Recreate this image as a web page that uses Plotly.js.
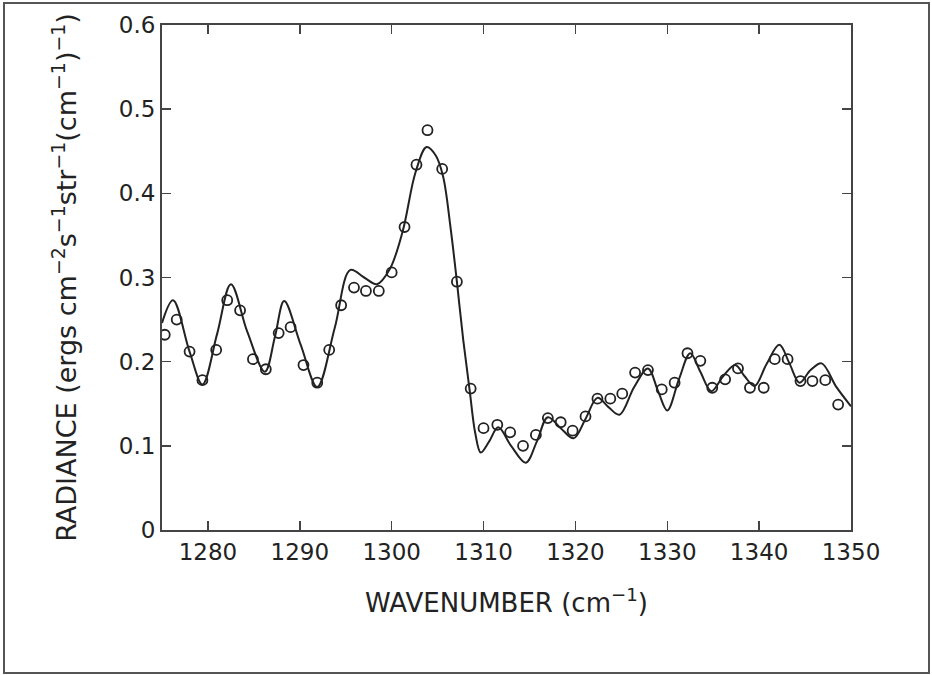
<!DOCTYPE html>
<html>
<head>
<meta charset="utf-8">
<script src="https://cdn.plot.ly/plotly-3.0.1.min.js"></script>
<style>
html,body{margin:0;padding:0;background:#fff;}
#chart{width:932px;height:675px;}
</style>
</head>
<body>
<div id="chart"></div>
<script>
// Observed data points (open circles)
const obsWavenumber = [1275.3,1276.6,1278.0,1279.4,1280.9,1282.1,1283.5,1284.9,1286.3,1287.7,1289.0,1290.4,1291.9,1293.2,1294.5,1295.9,1297.2,1298.6,1300.0,1301.4,1302.7,1303.9,1305.5,1307.1,1308.6,1310.0,1311.5,1312.9,1314.3,1315.7,1317.0,1318.4,1319.7,1321.1,1322.4,1323.8,1325.1,1326.5,1327.9,1329.4,1330.8,1332.2,1333.6,1334.9,1336.3,1337.7,1339.0,1340.5,1341.7,1343.1,1344.5,1345.8,1347.2,1348.6];
const obsRadiance = [0.232,0.250,0.212,0.178,0.214,0.273,0.261,0.203,0.191,0.234,0.241,0.196,0.175,0.214,0.267,0.288,0.284,0.284,0.306,0.360,0.434,0.475,0.429,0.295,0.168,0.121,0.125,0.116,0.100,0.113,0.133,0.128,0.118,0.135,0.156,0.156,0.162,0.187,0.190,0.167,0.175,0.210,0.201,0.169,0.179,0.192,0.169,0.169,0.203,0.203,0.177,0.177,0.178,0.149];

// Model curve (solid line)
const modelWavenumber = [1275.0,1276.2,1278.0,1279.4,1281.0,1282.5,1284.3,1286.2,1287.3,1288.3,1290.1,1291.9,1293.8,1295.5,1297.0,1298.4,1299.8,1301.2,1302.6,1303.8,1304.8,1305.6,1306.4,1307.1,1307.8,1308.5,1309.1,1309.7,1310.6,1311.6,1313.0,1314.6,1315.8,1317.0,1318.4,1319.8,1321.1,1322.4,1323.6,1324.8,1326.4,1327.9,1329.0,1330.0,1331.3,1332.5,1333.6,1334.8,1336.1,1337.4,1338.4,1339.5,1340.8,1342.2,1343.3,1344.4,1345.6,1346.8,1348.4,1350.0];
const modelRadiance = [0.246,0.273,0.212,0.173,0.233,0.292,0.235,0.188,0.230,0.272,0.220,0.170,0.240,0.309,0.300,0.292,0.310,0.355,0.425,0.455,0.445,0.420,0.360,0.295,0.225,0.165,0.115,0.092,0.105,0.122,0.100,0.080,0.105,0.134,0.121,0.109,0.132,0.157,0.146,0.137,0.170,0.192,0.165,0.142,0.180,0.210,0.188,0.165,0.183,0.196,0.183,0.171,0.197,0.220,0.198,0.175,0.190,0.198,0.170,0.147];

const xTicks = [1280,1290,1300,1310,1320,1330,1340,1350];
const yTicks = [0,0.1,0.2,0.3,0.4,0.5,0.6];
const yTickText = ['0','0.1','0.2','0.3','0.4','0.5','0.6'];

const W = 932, H = 675;
const m = {l:162, r:81, t:25, b:145};
const pw = W - m.l - m.r, ph = H - m.t - m.b;
// outer frame in paper coordinates
const fx0 = (4 - m.l)/pw, fx1 = (929 - m.l)/pw;
const fy1 = 1 + (m.t - 3)/ph, fy0 = -(m.b - 2)/ph;

const fontFam = 'DejaVu Sans, sans-serif';
const ink = '#222';

const traces = [
  {
    x: modelWavenumber, y: modelRadiance, type:'scatter', mode:'lines',
    line:{color:ink, width:2, shape:'spline', smoothing:1.0},
    hoverinfo:'skip', showlegend:false
  },
  {
    x: obsWavenumber, y: obsRadiance, type:'scatter', mode:'markers',
    marker:{symbol:'circle-open', size:10, color:ink, line:{color:ink, width:1.8}},
    showlegend:false
  }
];

const axisCommon = {
  showgrid:false, zeroline:false, showline:true, linecolor:'#444', linewidth:2,
  ticks:'inside', ticklen:9, tickwidth:1.5, tickcolor:'#444', mirror:'ticks',
  tickfont:{family:fontFam, size:23, color:ink}
};

const layout = {
  width:W, height:H,
  margin:m,
  paper_bgcolor:'#fff', plot_bgcolor:'#fff',
  xaxis: Object.assign({}, axisCommon, {
    range:[1275,1350], tickmode:'array', tickvals:xTicks,
    title:{text:'WAVENUMBER (cm<sup>−1</sup>)', font:{family:fontFam, size:26, color:ink}, standoff:30}
  }),
  yaxis: Object.assign({}, axisCommon, {
    range:[0,0.6], tickmode:'array', tickvals:yTicks, ticktext:yTickText,
    title:{text:'RADIANCE (ergs cm<sup>−2</sup>s<sup>−1</sup>str<sup>−1</sup>(cm<sup>−1</sup>)<sup>−1</sup>)', font:{family:fontFam, size:27, color:ink}, standoff:34}
  }),
  shapes:[
    {type:'rect', xref:'paper', yref:'paper', x0:fx0, x1:fx1, y0:fy0, y1:fy1,
     line:{color:'#555', width:2}, fillcolor:'rgba(0,0,0,0)', layer:'below'}
  ]
};

Plotly.newPlot('chart', traces, layout, {staticPlot:true, displayModeBar:false});
</script>
</body>
</html>
